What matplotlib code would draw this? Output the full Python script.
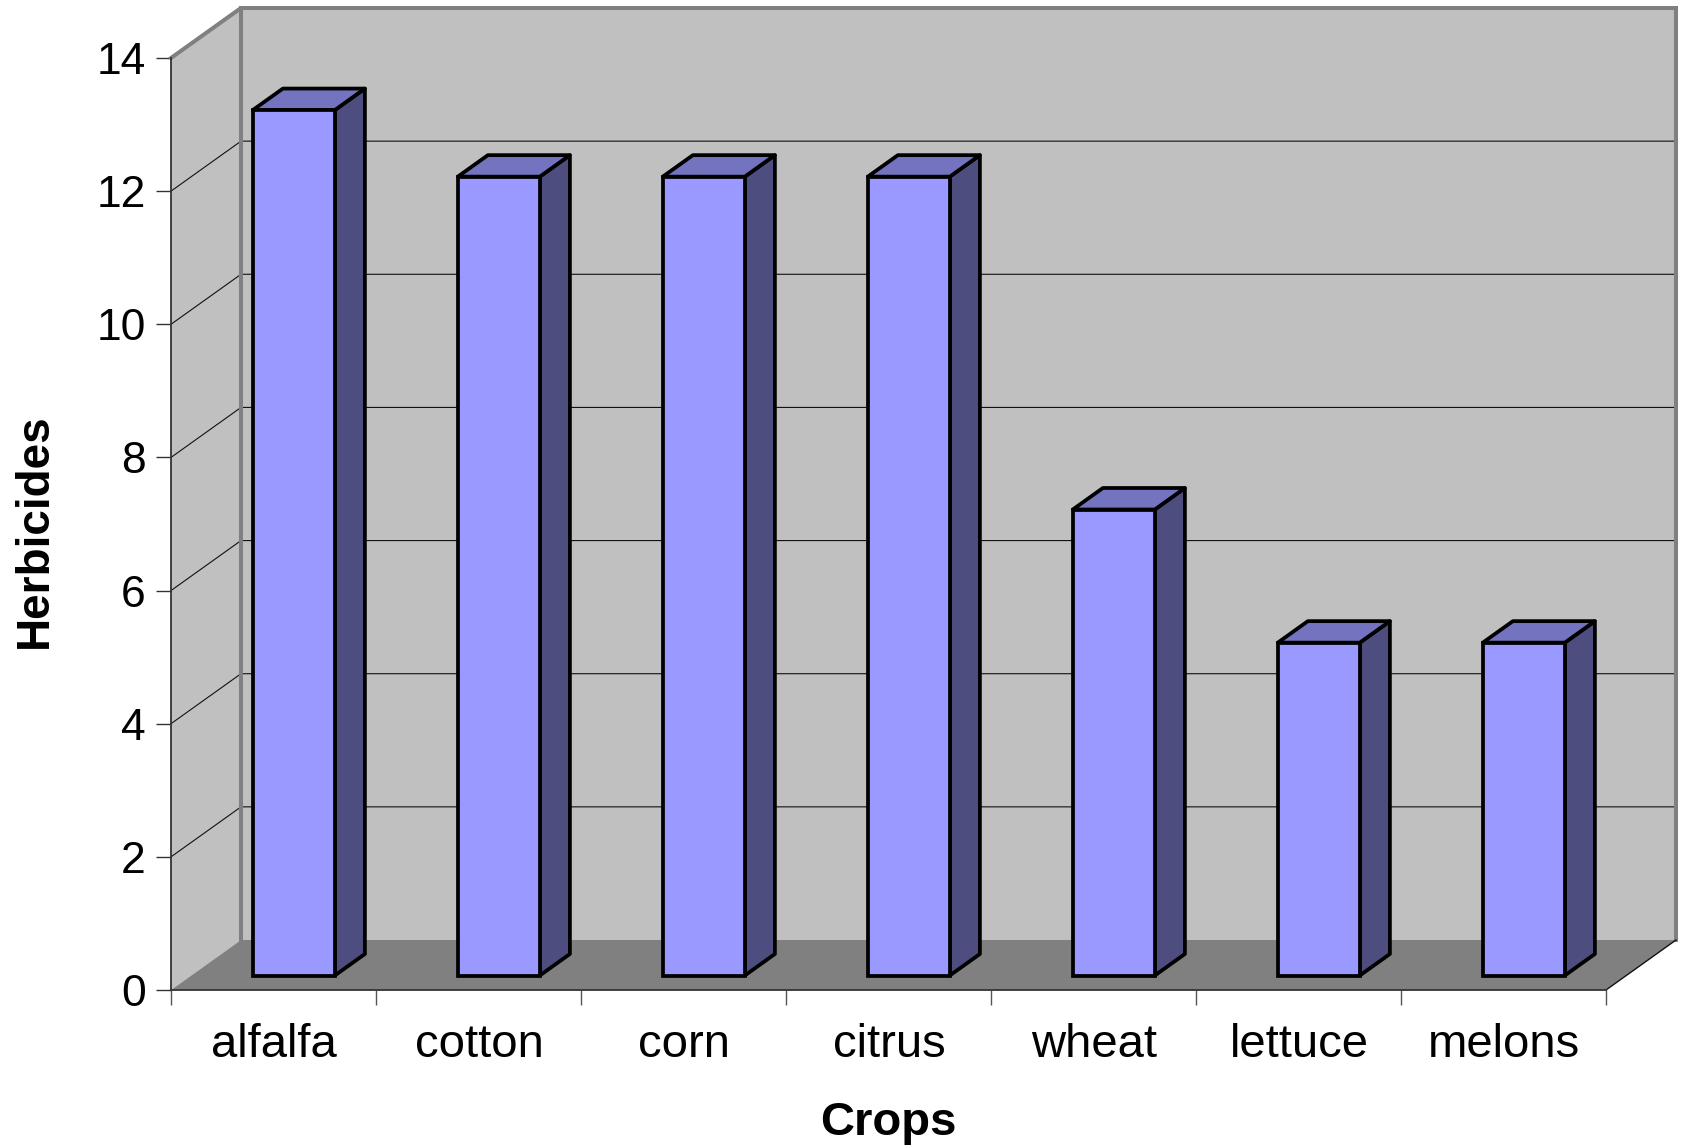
import matplotlib
matplotlib.use('Agg')
import matplotlib.pyplot as plt
from matplotlib.patches import Polygon

plt.rcParams['font.family'] = ['Liberation Sans', 'DejaVu Sans']

crops = ['alfalfa', 'cotton', 'corn', 'citrus', 'wheat', 'lettuce', 'melons']
herbicides = [13, 12, 12, 12, 7, 5, 5]
y_ticks = [0, 2, 4, 6, 8, 10, 12, 14]

W, H = 1683, 1145
LEFT, RIGHT, TOP, BOTTOM = 171, 1606, 58, 990
YMAX = 14
n = len(crops)

# depth of the fake 3d box, in data units
DEPTH_X = 70 / ((RIGHT - LEFT) / n)
DEPTH_Y = 50 / ((BOTTOM - TOP) / YMAX)
BAR_NEAR, BAR_FAR = 0.29, 0.72
BAR_W = 0.40
BAR_LW = 2.7


def proj(x, y, d=0.0):
    return (x + d * DEPTH_X, y + d * DEPTH_Y)


def poly(ax, pts, fc, ec='none', lw=0, z=1):
    ax.add_patch(Polygon(pts, closed=True, facecolor=fc, edgecolor=ec, linewidth=lw,
                         joinstyle='round', zorder=z, clip_on=False))


fig = plt.figure(figsize=(W / 100, H / 100), dpi=100)
ax = fig.add_axes([LEFT / W, 1 - BOTTOM / H, (RIGHT - LEFT) / W, (BOTTOM - TOP) / H])
ax.set_xlim(0, n)
ax.set_ylim(0, YMAX)
ax.patch.set_visible(False)
for s in ['top', 'right']:
    ax.spines[s].set_visible(False)
for s in ['left', 'bottom']:
    ax.spines[s].set_color('#333333')
    ax.spines[s].set_linewidth(1.3)
    ax.spines[s].set_zorder(6)

# walls and floor
poly(ax, [proj(0, 0, 1), proj(n, 0, 1), proj(n, YMAX, 1), proj(0, YMAX, 1)], '#c0c0c0')
poly(ax, [proj(0, 0), proj(0, YMAX), proj(0, YMAX, 1), proj(0, 0, 1)], '#c0c0c0')
poly(ax, [proj(0, 0), proj(n, 0), proj(n, 0, 1), proj(0, 0, 1)], '#808080')

# gridlines, bent round the left wall
for v in y_ticks[1:-1]:
    pts = [proj(0, v), proj(0, v, 1), proj(n, v, 1)]
    ax.plot([p[0] for p in pts], [p[1] for p in pts], color='#111111', lw=0.8,
            zorder=2, clip_on=False)

# wall edges
edge = [proj(0, YMAX), proj(0, YMAX, 1), proj(n, YMAX, 1), proj(n, 0, 1)]
ax.plot([p[0] for p in edge], [p[1] for p in edge], color='#808080', lw=2.9,
        zorder=3, clip_on=False, solid_joinstyle='miter')
back = [proj(0, YMAX, 1), proj(0, 0, 1)]
ax.plot([p[0] for p in back], [p[1] for p in back], color='#808080', lw=2.9,
        zorder=3, clip_on=False)
diag = [proj(n, 0), proj(n, 0, 1)]
ax.plot([p[0] for p in diag], [p[1] for p in diag], color='#111111', lw=1.0,
        zorder=3, clip_on=False)

# bars
for i, v in enumerate(herbicides):
    x0 = i + 0.5 - BAR_W / 2 + BAR_NEAR * DEPTH_X
    x1 = x0 + BAR_W
    off = BAR_NEAR * DEPTH_Y
    d = BAR_FAR - BAR_NEAR
    lo, hi = off, v + off
    ax.add_patch(plt.Rectangle((x0, lo), BAR_W, v, facecolor='#9999ff', edgecolor='black',
                               linewidth=BAR_LW, zorder=5, clip_on=False))
    poly(ax, [(x1, lo), proj(x1, lo, d), proj(x1, hi, d), (x1, hi)], '#4d4d80', 'black', BAR_LW, 4)
    poly(ax, [(x0, hi), (x1, hi), proj(x1, hi, d), proj(x0, hi, d)], '#7373bf', 'black', BAR_LW, 4)

# axes text
ax.set_yticks(y_ticks)
ax.set_xticks(range(n + 1))
ax.set_xticklabels([])
ax.tick_params(axis='y', length=11, width=1.0, color='#333333', labelsize=32, pad=7)
ax.tick_params(axis='x', length=11, width=1.0, color='#555555')
for i, c in enumerate(crops):
    ax.annotate(c, xy=(i + 0.5, 0), xycoords='data', xytext=(0.5, -39.5), textcoords='offset points',
                ha='center', va='center', fontsize=34, color='black')
ax.set_xlabel('Crops', fontsize=34, fontweight='bold')
ax.xaxis.set_label_coords(0.5, -0.1424, transform=ax.transAxes)
ax.xaxis.label.set_va('center')
ax.set_ylabel('Herbicides', fontsize=33, fontweight='bold')
ax.yaxis.set_label_coords(-0.095, 0.493, transform=ax.transAxes)
ax.yaxis.label.set_va('center')

plt.savefig('out.png', dpi=100)
